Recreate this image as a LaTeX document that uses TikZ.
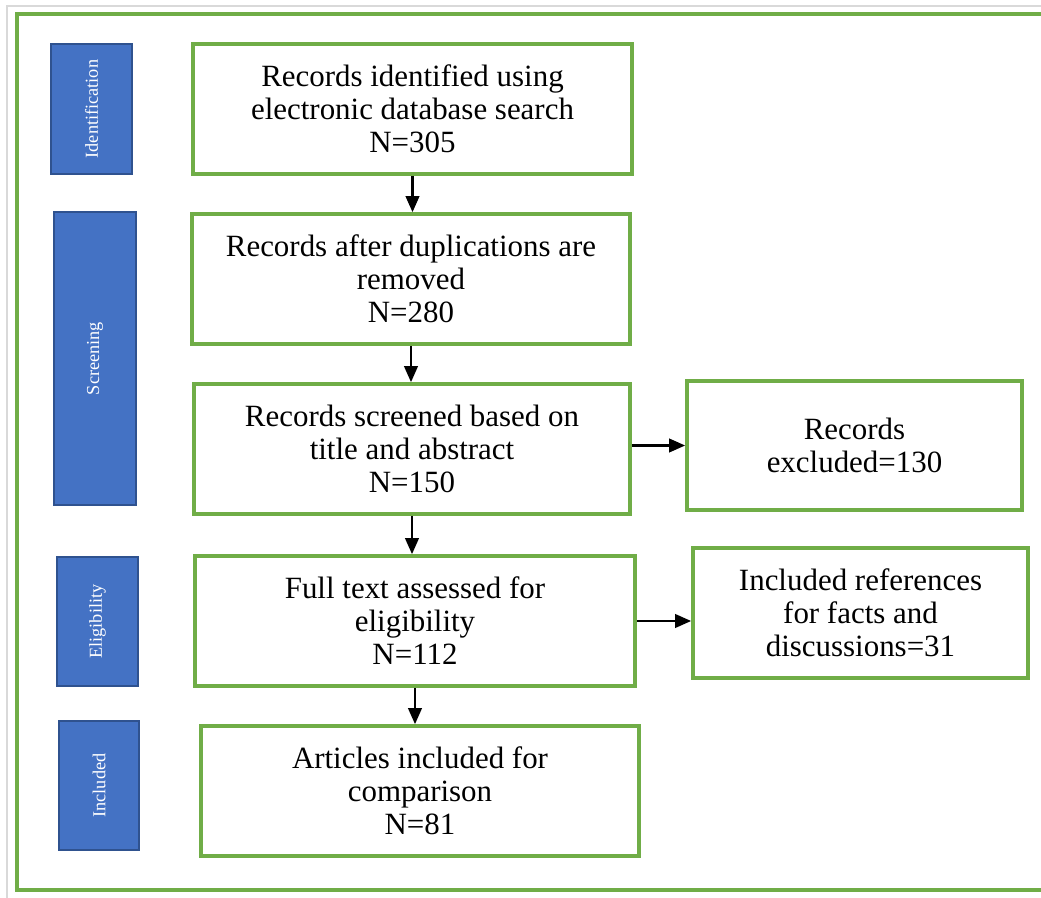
\documentclass[tikz,border=0pt]{standalone}
\usepackage{fontspec}
\setmainfont{Liberation Serif}
\usetikzlibrary{arrows.meta}

\definecolor{boxgreen}{HTML}{70AD47}
\definecolor{phaseblue}{HTML}{4472C4}
\definecolor{phaseedge}{HTML}{2F528F}
\definecolor{framegray}{HTML}{D9D9D9}

\begin{document}
\begin{tikzpicture}[x=0.025cm,y=-0.025cm]
    \tikzstyle{every node}=[font=\fontsize{22}{23.5}\selectfont]
    \tikzstyle{flowbox}=[draw=boxgreen,line width=2.6pt,fill=white,align=center,
        inner sep=2pt,minimum height=3.25cm]
    \tikzstyle{phase}=[draw=phaseedge,line width=1.6pt,fill=phaseblue,text=white,
        rotate=90,minimum width=3.25cm,minimum height=2.025cm,inner sep=1pt,
        font=\fontsize{13}{15}\selectfont]
    \tikzstyle{flow}=[line width=1.5pt,-{Triangle[length=0.4cm,width=0.34cm]}]
    \useasboundingbox (0,0) rectangle (1041,898);

    % page frame
    \draw[framegray,line width=1.4pt] (7,898) -- (7,6) -- (1041,6);
    \draw[boxgreen,line width=2.6pt] (1041,14) -- (17,14) -- (17,890) -- (1041,890);

    % phases
    \node[phase] (ident) at (91.5,109) {Identification};
    \node[phase,minimum width=7.325cm,minimum height=2.05cm] (screen) at (95,358.5) {Screening};
    \node[phase,minimum width=3.225cm] (elig) at (97.5,621.5) {Eligibility};
    \node[phase,minimum width=3.225cm,minimum height=2cm] (incl) at (99,785.5) {Included};

    % main flow
    \node[flowbox,minimum width=10.975cm] (found) at (412.5,109)
        {Records identified using\\electronic database search\\N=305};
    \node[flowbox,minimum width=10.95cm] (dedup) at (411,279)
        {Records after duplications are\\removed\\N=280};
    \node[flowbox,minimum width=10.9cm] (screened) at (412,449)
        {Records screened based on\\title and abstract\\N=150};
    \node[flowbox,minimum width=11cm] (fulltext) at (415,621)
        {Full text assessed for\\eligibility\\N=112};
    \node[flowbox,minimum width=10.95cm] (kept) at (420,791)
        {Articles included for\\comparison\\N=81};

    % side boxes
    \node[flowbox,minimum width=8.375cm,minimum height=3.225cm] (dropped) at (854.5,445.5)
        {Records\\excluded=130};
    \node[flowbox,minimum width=8.375cm] (refs) at (860.5,613)
        {Included references\\for facts and\\discussions=31};

    \draw[flow] (found.south) -- (found.south |- dedup.north);
    \draw[flow] (dedup.south) -- (dedup.south |- screened.north);
    \draw[flow] (screened.south) -- (screened.south |- fulltext.north);
    \draw[flow] (fulltext.south) -- (fulltext.south |- kept.north);
    \draw[flow] (dropped.west -| screened.east) -- (dropped.west);
    \draw[flow] (fulltext.east) -- (fulltext.east -| refs.west);

\end{tikzpicture}
\end{document}
